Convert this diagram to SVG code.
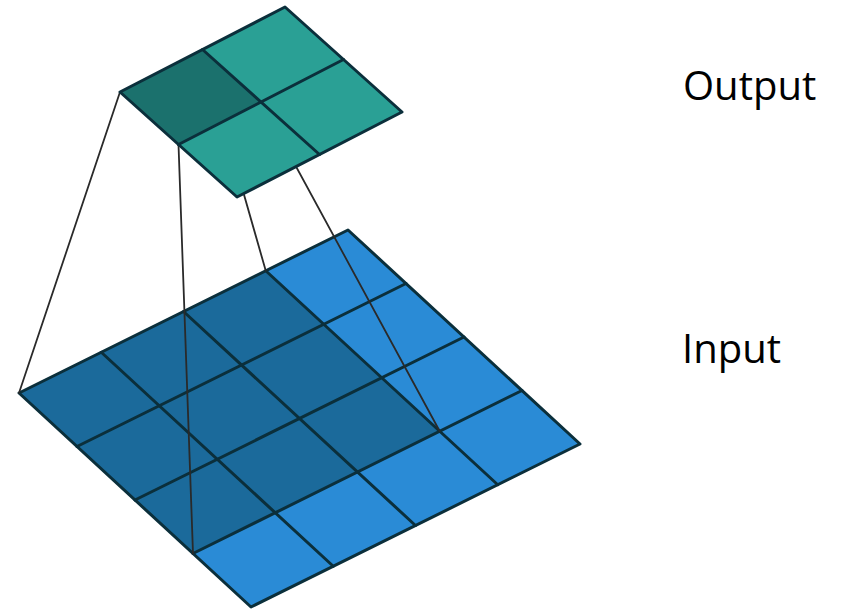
<svg xmlns="http://www.w3.org/2000/svg" width="843" height="611" viewBox="0 0 843 611">
<defs>
<style>
.grid{fill:none;stroke:#0b2f3b;stroke-width:3;stroke-linejoin:round;stroke-linecap:round}
.inL{fill:#2a8bd6}
.inD{fill:#1b6a9b}
.outL{fill:#2aa095}
.outD{fill:#1b716d}
.conn{stroke:#2a2a2a;stroke-width:1.8;fill:none;stroke-linecap:round}
.lbl{font-family:"Open Sans","Noto Sans",sans-serif;font-size:40px;fill:#000}
</style>
</defs>
<rect width="843" height="611" fill="#fff"/>
<g id="input">
<polygon class="inL" points="19,393 348,230 580,444 251,607"/>
<polygon class="inD" points="19,393 265.75,270.75 439.75,431.25 193,553.5"/>
<g class="grid">
<line x1="101.25" y1="352.25" x2="333.25" y2="566.25"/>
<line x1="183.5" y1="311.5" x2="415.5" y2="525.5"/>
<line x1="265.75" y1="270.75" x2="497.75" y2="484.75"/>
<line x1="77" y1="446.5" x2="406" y2="283.5"/>
<line x1="135" y1="500" x2="464" y2="337"/>
<line x1="193" y1="553.5" x2="522" y2="390.5"/>
<polygon points="19,393 348,230 580,444 251,607"/>
</g>
</g>
<g id="connectors">
<line class="conn" x1="120" y1="92" x2="19" y2="393"/>
<line class="conn" x1="178.5" y1="144.5" x2="193" y2="553.5"/>
<line class="conn" x1="202.5" y1="49.5" x2="265.75" y2="270.75"/>
<line class="conn" x1="261" y1="102" x2="439.75" y2="431.25"/>
</g>
<g id="output">
<polygon class="outL" points="120,92 285,7 402,112 237,197"/>
<polygon class="outD" points="120,92 202.5,49.5 261,102 178.5,144.5"/>
<g class="grid">
<line x1="202.5" y1="49.5" x2="319.5" y2="154.5"/>
<line x1="178.5" y1="144.5" x2="343.5" y2="59.5"/>
<polygon points="120,92 285,7 402,112 237,197"/>
</g>
</g>
<g id="label-output"><text class="lbl" x="683" y="100">Output</text></g>
<g id="label-input"><text class="lbl" x="682" y="363">Input</text></g>
</svg>
